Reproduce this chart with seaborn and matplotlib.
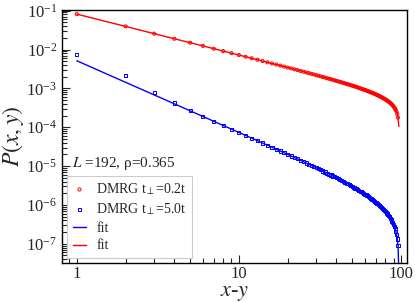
import numpy as np
import pandas as pd
import seaborn as sns
import matplotlib
matplotlib.use("Agg")
import matplotlib.pyplot as plt
from matplotlib.ticker import NullFormatter

# separation x-y (integer sites) for data points and fit curves
r_pts = list(range(1, 97))
r_fit = list(range(1, 98))

# P(x,y) for t_perp = 0.2t (red) (fit coincides with data)
red_fit = [0.0813,0.0393,0.0256,0.0189,0.015,0.0124,0.0105,0.00913,0.00806,0.00721,
0.00652,0.00594,0.00546,0.00504,0.00468,0.00437,0.0041,0.00385,0.00363,0.00344,
0.00326,0.0031,0.00295,0.00281,0.00269,0.00257,0.00247,0.00237,0.00228,0.00219,
0.00211,0.00203,0.00196,0.0019,0.00183,0.00177,0.00172,0.00166,0.00161,0.00156,
0.00152,0.00147,0.00143,0.00139,0.00135,0.00131,0.00128,0.00124,0.00121,0.00118,
0.00115,0.00112,0.00109,0.00106,0.00103,0.001,0.000979,0.000954,0.00093,0.000907,
0.000884,0.000861,0.000839,0.000818,0.000797,0.000777,0.000757,0.000737,0.000718,0.000699,
0.00068,0.000662,0.000644,0.000626,0.000608,0.000591,0.000574,0.000556,0.000539,0.000522,
0.000505,0.000488,0.000471,0.000454,0.000436,0.000419,0.000401,0.000382,0.000363,0.000343,
0.000323,0.000301,0.000276,0.000249,0.000218,0.000177,0.000105]
red_pts = red_fit[:96]

# P(x,y) for t_perp = 5.0t (blue): fit curve, and data (deviates at small x-y)
blue_fit = [0.00513,0.00143,0.000679,0.0004,0.000265,0.000189,0.000142,0.000111,8.94e-05,7.35e-05,
6.16e-05,5.23e-05,4.51e-05,3.92e-05,3.45e-05,3.05e-05,2.72e-05,2.44e-05,2.2e-05,2e-05,
1.82e-05,1.66e-05,1.53e-05,1.41e-05,1.3e-05,1.2e-05,1.12e-05,1.04e-05,9.69e-06,9.06e-06,
8.48e-06,7.95e-06,7.46e-06,7.02e-06,6.61e-06,6.23e-06,5.89e-06,5.56e-06,5.26e-06,4.98e-06,
4.72e-06,4.48e-06,4.25e-06,4.04e-06,3.84e-06,3.65e-06,3.48e-06,3.31e-06,3.15e-06,3e-06,
2.86e-06,2.73e-06,2.61e-06,2.49e-06,2.37e-06,2.27e-06,2.16e-06,2.06e-06,1.97e-06,1.88e-06,
1.8e-06,1.72e-06,1.64e-06,1.56e-06,1.49e-06,1.42e-06,1.36e-06,1.29e-06,1.23e-06,1.17e-06,
1.12e-06,1.06e-06,1.01e-06,9.61e-07,9.11e-07,8.64e-07,8.18e-07,7.73e-07,7.3e-07,6.88e-07,
6.47e-07,6.07e-07,5.68e-07,5.3e-07,4.93e-07,4.57e-07,4.21e-07,3.85e-07,3.5e-07,3.15e-07,
2.8e-07,2.45e-07,2.09e-07,1.72e-07,1.33e-07,8.93e-08,2.0e-08]
blue_pts = [0.0073, 0.0021, 0.0008, 0.00042] + blue_fit[4:96]

x_ticks = [1, 10, 100]
x_ticklabels = ['1', '10', '100']

sns.set_style("ticks")
plt.rcParams['font.family'] = ['Liberation Serif', 'DejaVu Serif']
plt.rcParams['mathtext.fontset'] = 'stix'

fig = plt.figure(figsize=(4.15, 3.02), dpi=100)
ax = fig.add_axes([0.1494, 0.1291, 0.8313, 0.8378])

sns.scatterplot(x=r_pts, y=red_pts, ax=ax, marker='o', s=5, facecolor='none',
                edgecolor='#ff0000', linewidth=0.7, label='DMRG t$_{\\perp}$=0.2t', zorder=3)
sns.scatterplot(x=r_pts, y=blue_pts, ax=ax, marker='s', s=5, facecolor='none',
                edgecolor='#0000ff', linewidth=0.7, label='DMRG t$_{\\perp}$=5.0t', zorder=3)
sns.lineplot(x=r_fit, y=blue_fit, ax=ax, color='#0000ff', lw=1.0, label='fit', estimator=None, sort=False)
sns.lineplot(x=r_fit, y=red_fit, ax=ax, color='#ff0000', lw=1.0, label='fit', estimator=None, sort=False)

ax.set_xscale('log'); ax.set_yscale('log')
ax.set_xlim(0.81, 109); ax.set_ylim(3.2e-8, 0.104)
ax.set_xticks(x_ticks, x_ticklabels)
ax.xaxis.set_minor_formatter(NullFormatter())
ax.yaxis.set_minor_formatter(NullFormatter())
ax.tick_params(which='both', direction='in', top=False, right=False, labelsize=12)
ax.tick_params(axis='x', which='major', pad=2)
ax.tick_params(which='major', length=6, width=0.8)
ax.tick_params(which='minor', length=3.5, width=0.8)
for sp in ax.spines.values():
    sp.set_color('black'); sp.set_linewidth(1.0)
ax.set_xlabel('$x$-$y$', fontsize=16)
ax.xaxis.set_label_coords(0.5, -0.082)
ax.set_ylabel('$P(x,y)$', fontsize=17)
ax.yaxis.set_label_coords(-0.105, 0.5)
ax.text(0.03, 0.395, '$L$ =192, ρ=0.365', transform=ax.transAxes, fontsize=11, va='center')
leg = ax.legend(loc='lower left', bbox_to_anchor=(0.0145, 0.0198), borderaxespad=0,
                fontsize=10, handlelength=1.0, handletextpad=0.7, frameon=True, fancybox=False,
                edgecolor='#cccccc', framealpha=1, scatterpoints=1, labelspacing=0.33,
                borderpad=0.4, markerscale=1.0)
leg.get_frame().set_linewidth(0.8)

fig.savefig("out.png", dpi=100)
